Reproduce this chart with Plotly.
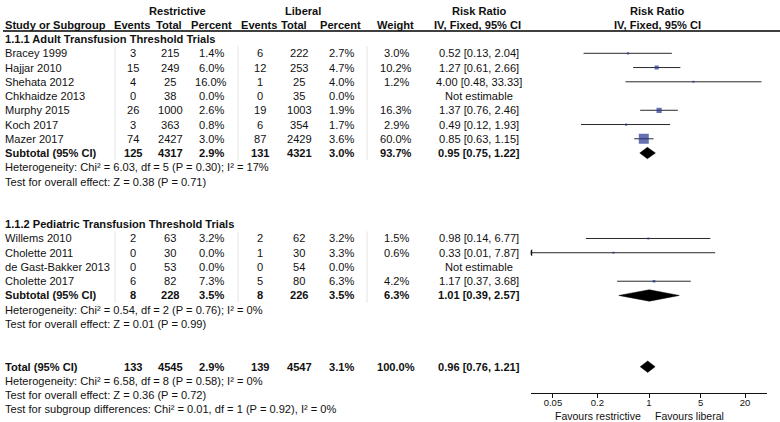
import math
import plotly.graph_objects as go

W, H = 780, 422

# ---------------- data ----------------
adult_studies = ["Bracey 1999", "Hajjar 2010", "Shehata 2012", "Chkhaidze 2013",
                 "Murphy 2015", "Koch 2017", "Mazer 2017"]
adult_r_events = [3, 15, 4, 0, 26, 3, 74]
adult_r_total = [215, 249, 25, 38, 1000, 363, 2427]
adult_r_pct = ["1.4%", "6.0%", "16.0%", "0.0%", "2.6%", "0.8%", "3.0%"]
adult_l_events = [6, 12, 1, 0, 19, 6, 87]
adult_l_total = [222, 253, 25, 35, 1003, 354, 2429]
adult_l_pct = ["2.7%", "4.7%", "4.0%", "0.0%", "1.9%", "1.7%", "3.6%"]
adult_weight = [3.0, 10.2, 1.2, None, 16.3, 2.9, 60.0]
adult_rr = [0.52, 1.27, 4.00, None, 1.37, 0.49, 0.85]
adult_lo = [0.13, 0.61, 0.48, None, 0.76, 0.12, 0.63]
adult_hi = [2.04, 2.66, 33.33, None, 2.46, 1.93, 1.15]

ped_studies = ["Willems 2010", "Cholette 2011", "de Gast-Bakker 2013", "Cholette 2017"]
ped_r_events = [2, 0, 0, 6]
ped_r_total = [63, 30, 53, 82]
ped_r_pct = ["3.2%", "0.0%", "0.0%", "7.3%"]
ped_l_events = [2, 1, 0, 5]
ped_l_total = [62, 30, 54, 80]
ped_l_pct = ["3.2%", "3.3%", "0.0%", "6.3%"]
ped_weight = [1.5, 0.6, None, 4.2]
ped_rr = [0.98, 0.33, None, 1.17]
ped_lo = [0.14, 0.01, None, 0.37]
ped_hi = [6.77, 7.87, None, 3.68]

# subtotals / total: events_r, total_r, pct_r, events_l, total_l, pct_l, weight, rr, lo, hi
sub_adult = [125, 4317, "2.9%", 131, 4321, "3.0%", "93.7%", 0.95, 0.75, 1.22]
sub_ped = [8, 228, "3.5%", 8, 226, "3.5%", "6.3%", 1.01, 0.39, 2.57]
overall = [133, 4545, "2.9%", 139, 4547, "3.1%", "100.0%", 0.96, 0.76, 1.21]

adult_notes = ["Heterogeneity: Chi² = 6.03, df = 5 (P = 0.30); I² = 17%",
               "Test for overall effect: Z = 0.38 (P = 0.71)"]
ped_notes = ["Heterogeneity: Chi² = 0.54, df = 2 (P = 0.76); I² = 0%",
             "Test for overall effect: Z = 0.01 (P = 0.99)"]
total_notes = ["Heterogeneity: Chi² = 6.58, df = 8 (P = 0.58); I² = 0%",
               "Test for overall effect: Z = 0.36 (P = 0.72)",
               "Test for subgroup differences: Chi² = 0.01, df = 1 (P = 0.92), I² = 0%"]

tick_vals = [0.05, 0.2, 1, 5, 20]
tick_text = ["0.05", "0.2", "1", "5", "20"]
x_min, x_max = 0.025, 40

# ---------------- layout geometry ----------------
ROW0_PX = 53.3
ROW_PX = 14.245
AXIS_PX = 393
r_top = -ROW0_PX / ROW_PX
r_bot = (H - ROW0_PX) / ROW_PX

FONT = "Liberation Sans, Arial, sans-serif"
FS = 11.1
TXT = "#111111"

# column centres (px)
COL = dict(study=3, re=133, rt=170, rp=211, le=260, lt=299, lp=341, w=396, rr=479, fp=657)

fig = go.Figure()
ann = []


def text(x_px, row, s, bold=False, anchor="center", size=FS):
    if bold:
        s = "<b>" + s + "</b>"
    ann.append(dict(x=x_px / W, xref="paper", y=row, yref="y", text=s, showarrow=False,
                    xanchor=anchor, yanchor="middle",
                    font=dict(family=FONT, size=size, color=TXT)))


def fmt_rr(rr, lo, hi):
    if rr is None:
        return "Not estimable"
    return f"{rr:.2f} [{lo:.2f}, {hi:.2f}]"


# headers
text(177, -3, "Restrictive", bold=True)
text(303, -3, "Liberal", bold=True)
text(479, -3, "Risk Ratio", bold=True)
text(657, -3, "Risk Ratio", bold=True)
text(COL["study"], -2, "Study or Subgroup", bold=True, anchor="left")
text(131.5, -2, "Events", bold=True)
text(169, -2, "Total", bold=True)
text(212, -2, "Percent", bold=True)
text(259, -2, "Events", bold=True)
text(293.5, -2, "Total", bold=True)
text(340, -2, "Percent", bold=True)
text(395, -2, "Weight", bold=True)
text(477, -2, "IV, Fixed, 95% CI", bold=True)
text(657, -2, "IV, Fixed, 95% CI", bold=True)

ci_x, ci_y = [], []
sq_x, sq_y, sq_s = [], [], []
arrow_x, arrow_y = [], []
diamonds = []


def summary_row(r, label, s):
    text(COL["study"], r, label, bold=True, anchor="left")
    text(COL["re"], r, str(s[0]), bold=True)
    text(COL["rt"], r, str(s[1]), bold=True)
    text(COL["rp"], r, s[2], bold=True)
    text(COL["le"], r, str(s[3]), bold=True)
    text(COL["lt"], r, str(s[4]), bold=True)
    text(COL["lp"], r, s[5], bold=True)
    text(COL["w"], r, s[6], bold=True)
    text(COL["rr"], r, fmt_rr(s[7], s[8], s[9]), bold=True)
    diamonds.append((r, s[7], s[8], s[9]))


def study_block(start, title, names, re, rt, rp, le, lt, lp, wt, rr, lo, hi, sub, notes):
    text(COL["study"], start - 1, title, bold=True, anchor="left")
    for i, n in enumerate(names):
        r = start + i
        text(COL["study"], r, n, anchor="left")
        text(COL["re"], r, str(re[i]))
        text(COL["rt"], r, str(rt[i]))
        text(COL["rp"], r, rp[i])
        text(COL["le"], r, str(le[i]))
        text(COL["lt"], r, str(lt[i]))
        text(COL["lp"], r, lp[i])
        if wt[i] is not None:
            text(COL["w"], r, f"{wt[i]:.1f}%")
        text(COL["rr"], r, fmt_rr(rr[i], lo[i], hi[i]))
        if rr[i] is not None:
            a = max(lo[i], x_min)
            b = min(hi[i], x_max)
            ci_x.extend([a, b, None])
            ci_y.extend([r, r, None])
            sq_x.append(rr[i]); sq_y.append(r)
            sq_s.append(max(2.0, 1.29 * math.sqrt(wt[i])))
            if lo[i] < x_min:
                arrow_x.append(x_min); arrow_y.append(r)
    rs = start + len(names)
    summary_row(rs, "Subtotal (95% CI)", sub)
    for k, nt in enumerate(notes):
        text(COL["study"], rs + 1 + k, nt, anchor="left")
    return rs


sub1 = study_block(0, "1.1.1 Adult Transfusion Threshold Trials", adult_studies,
                   adult_r_events, adult_r_total, adult_r_pct, adult_l_events,
                   adult_l_total, adult_l_pct, adult_weight, adult_rr, adult_lo,
                   adult_hi, sub_adult, adult_notes)
sub2 = study_block(13, "1.1.2 Pediatric Transfusion Threshold Trials", ped_studies,
                   ped_r_events, ped_r_total, ped_r_pct, ped_l_events,
                   ped_l_total, ped_l_pct, ped_weight, ped_rr, ped_lo,
                   ped_hi, sub_ped, ped_notes)
summary_row(22, "Total (95% CI)", overall)
for k, nt in enumerate(total_notes):
    text(COL["study"], 23 + k, nt, anchor="left")

# CI lines
fig.add_trace(go.Scatter(x=ci_x, y=ci_y, mode="lines",
                         line=dict(color="#2a2a2a", width=1), hoverinfo="skip"))
# study squares
fig.add_trace(go.Scatter(x=sq_x, y=sq_y, mode="markers",
                         marker=dict(symbol="square", size=sq_s, color="#23348f",
                                     line=dict(width=0)), hoverinfo="skip"))
# arrows for truncated CI
fig.add_trace(go.Scatter(x=arrow_x, y=arrow_y, mode="markers",
                         marker=dict(symbol="triangle-left", size=6, color="#111",
                                     line=dict(width=0)), hoverinfo="skip"))
# diamonds
for (r, est, lo, hi) in diamonds:
    h = 0.4
    fig.add_trace(go.Scatter(x=[lo, est, hi, est, lo], y=[r, r - h, r, r + h, r],
                             mode="lines", fill="toself", fillcolor="#000000",
                             line=dict(color="#000000", width=0.5), hoverinfo="skip"))

shapes = []
# header rule
shapes.append(dict(type="line", xref="paper", yref="paper", x0=3 / W, x1=1,
                   y0=1 - 31 / H, y1=1 - 31 / H, line=dict(color="#000", width=1.5)))
# null line at RR = 1
shapes.append(dict(type="line", xref="x", yref="paper", x0=0, x1=0,
                   y0=1 - AXIS_PX / H, y1=1 - 31.5 / H, line=dict(color="#444", width=1)))
# faint column separators
for xs in [115, 238, 367]:
    for (ra, rb) in [(-0.5, sub1 + 0.5), (12.5, sub2 + 0.5)]:
        shapes.append(dict(type="line", xref="paper", yref="y", x0=xs / W, x1=xs / W,
                           y0=ra, y1=rb, line=dict(color="#e4e4e4", width=1)))

ann.append(dict(x=643 / W, xref="paper", y=1 - 415.5 / H, yref="paper",
                text="Favours restrictive", showarrow=False, xanchor="right",
                yanchor="middle", font=dict(family=FONT, size=10.5, color=TXT)))
ann.append(dict(x=653 / W, xref="paper", y=1 - 415.5 / H, yref="paper",
                text="Favours liberal", showarrow=False, xanchor="left",
                yanchor="middle", font=dict(family=FONT, size=10.5, color=TXT)))

fig.update_layout(
    width=W, height=H, margin=dict(l=0, r=0, t=0, b=0),
    paper_bgcolor="white", plot_bgcolor="white", showlegend=False,
    annotations=ann, shapes=shapes,
    xaxis=dict(type="log", range=[math.log10(x_min), math.log10(x_max)],
               domain=[530.7 / W, 767.3 / W], anchor="free", position=1 - AXIS_PX / H,
               showgrid=False, zeroline=False,
               showline=True, linecolor="#111", linewidth=1,
               ticks="outside", ticklen=4, tickcolor="#111", tickwidth=1,
               ticklabelstandoff=-3,
               tickvals=tick_vals, ticktext=tick_text,
               tickfont=dict(family=FONT, size=9.5, color=TXT), fixedrange=True),
    yaxis=dict(range=[r_bot, r_top], domain=[0, 1], visible=False,
               fixedrange=True),
)

fig.write_html("out.html", config={"displayModeBar": False},
               post_script="document.body.style.margin='0px';")
